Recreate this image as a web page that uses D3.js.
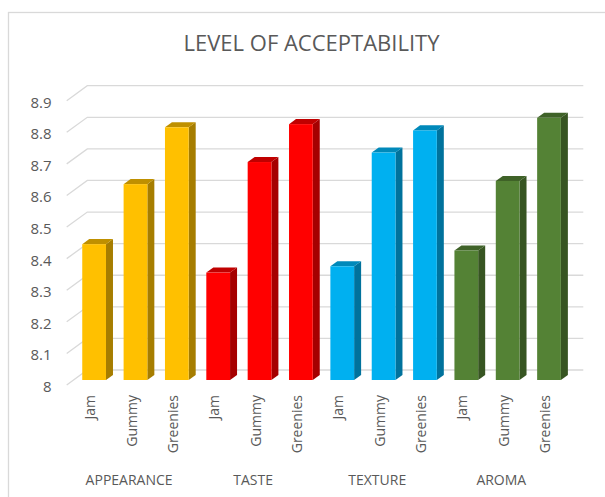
<!DOCTYPE html>
<html>
<head>
<meta charset="utf-8">
<script src="https://cdn.jsdelivr.net/npm/d3@7"></script>
<style>
  body { margin: 0; background: #fff; }
  text { font-family: "Open Sans", sans-serif; fill: #595959; }
</style>
</head>
<body>
<svg id="chart" width="605" height="497"></svg>
<script>
// values
const groups = ["APPEARANCE", "TASTE", "TEXTURE", "AROMA"];
const products = ["Jam", "Gummy", "Greenies"];
const appearance = [8.43, 8.62, 8.80];
const taste = [8.34, 8.69, 8.81];
const texture = [8.36, 8.72, 8.79];
const aroma = [8.41, 8.63, 8.83];
const yTicks = [8, 8.1, 8.2, 8.3, 8.4, 8.5, 8.6, 8.7, 8.8, 8.9];

const seriesByGroup = [appearance, taste, texture, aroma];

// face colours: front, side, top
const palette = [
    ["#FFC000", "#A67D00", "#BF9000"],
    ["#FF0000", "#A50000", "#C00000"],
    ["#00B0F0", "#00729C", "#0089BA"],
    ["#548235", "#375522", "#3F6228"]
];

let data = [];
groups.forEach((g, gi) => {
    products.forEach((p, pi) => {
        data.push({ key: g + "-" + p, group: g, gi: gi, product: p, value: seriesByGroup[gi][pi] });
    });
});

const svg = d3.select("#chart");

// chart border (runs off right / bottom like the reference)
svg.append("rect")
    .attr("x", 8.5).attr("y", 12.5)
    .attr("width", 620).attr("height", 500)
    .attr("fill", "none").attr("stroke", "#D9D9D9").attr("stroke-width", 1.3);

svg.append("text")
    .attr("x", 311.5).attr("y", 50.5)
    .attr("text-anchor", "middle")
    .style("font-size", "22px")
    .text("LEVEL OF ACCEPTABILITY");

// front floor plane + oblique depth
const depth = [20.6, -15];
const left = 66.7, right = 562.7;

const y = d3.scaleLinear().domain([8, 8.9]).range([385, 100.7]);
const x = d3.scaleBand().domain(data.map(d => d.key))
    .range([left, right]).paddingInner(0.426).paddingOuter(0.21);

// gridlines: left diagonal then the back wall line
svg.append("g").selectAll("path")
    .data(yTicks).join("path")
    .attr("d", t => {
        let yf = y(t);
        return "M" + left + "," + yf +
            "L" + (left + depth[0]) + "," + (yf + depth[1]) +
            "L" + (right + depth[0]) + "," + (yf + depth[1]);
    })
    .attr("fill", "none").attr("stroke", "#D9D9D9").attr("stroke-width", 1.3);

svg.append("g").selectAll("text")
    .data(yTicks).join("text")
    .attr("x", 51.5).attr("y", t => y(t) + 1)
    .attr("text-anchor", "end").attr("dominant-baseline", "central")
    .style("font-size", "15px")
    .text(t => String(+t.toFixed(1)));

// bars sit a third of the way into the depth, a third deep
const off = [depth[0] / 3, depth[1] / 3];
const th = [7, -5.1];
const w = x.bandwidth();

const bars = svg.append("g").selectAll("g")
    .data(data).join("g");

bars.append("polygon")
    .attr("points", d => {
        let x0 = x(d.key) + off[0] + w, yt = y(d.value) + off[1], yb = y(8) + off[1];
        return [[x0, yt], [x0 + th[0], yt + th[1]], [x0 + th[0], yb + th[1]], [x0, yb]].join(" ");
    })
    .attr("fill", d => palette[d.gi][1]);

bars.append("polygon")
    .attr("points", d => {
        let x0 = x(d.key) + off[0], yt = y(d.value) + off[1];
        return [[x0, yt], [x0 + th[0], yt + th[1]], [x0 + w + th[0], yt + th[1]], [x0 + w, yt]].join(" ");
    })
    .attr("fill", d => palette[d.gi][2]);

bars.append("rect")
    .attr("x", d => x(d.key) + off[0])
    .attr("y", d => y(d.value) + off[1])
    .attr("width", w)
    .attr("height", d => y(8) - y(d.value))
    .attr("fill", d => palette[d.gi][0]);

// product labels, rotated
svg.append("g").selectAll("text")
    .data(data).join("text")
    .attr("transform", d => "translate(" + (x(d.key) + w / 2 + 2.5) + ",395) rotate(-90)")
    .attr("text-anchor", "end").attr("dominant-baseline", "central")
    .style("font-size", "14px")
    .text(d => d.product);

// group labels
svg.append("g").selectAll("text")
    .data(groups).join("text")
    .attr("x", g => {
        let first = x(g + "-" + products[0]);
        let last = x(g + "-" + products[products.length - 1]) + w;
        return (first + last) / 2 + 0.5;
    })
    .attr("y", 485)
    .attr("text-anchor", "middle")
    .style("font-size", "14px")
    .text(g => g);
</script>
</body>
</html>
